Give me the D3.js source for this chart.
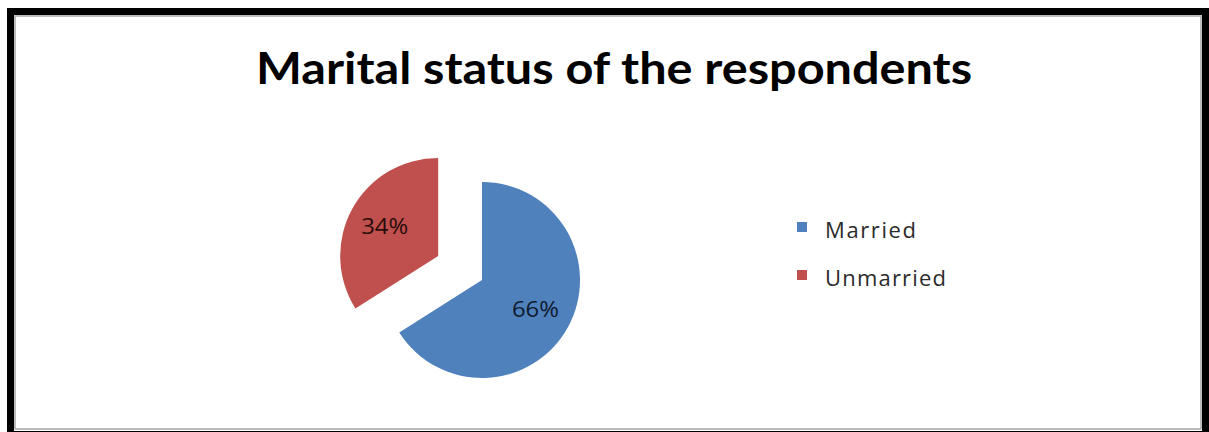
<!DOCTYPE html>
<html>
<head>
<meta charset="utf-8">
<script src="https://cdn.jsdelivr.net/npm/d3@7/dist/d3.min.js"></script>
<style>
  html, body { margin: 0; padding: 0; background: #ffffff; }
  svg { display: block; }
</style>
</head>
<body>
<svg id="chart" width="1209" height="432"></svg>
<script>
// Survey breakdown
const categories = ["Married", "Unmarried"];
const shares = [66, 34];
const labels = ["66%", "34%"];
const palette = ["#4F81BD", "#C0504D"];
const chartTitle = "Marital status of the respondents";

const svg = d3.select("#chart");
const W = 1209, H = 432;

// Page background and frame
svg.append("rect").attr("x", 0).attr("y", 0).attr("width", W).attr("height", H).attr("fill", "#ffffff");
svg.append("rect").attr("x", 7).attr("y", 8).attr("width", W - 7).attr("height", H).attr("fill", "#000000");
svg.append("rect").attr("x", 14).attr("y", 15).attr("width", 1188).attr("height", 416).attr("fill", "#ffffff");
svg.append("rect").attr("x", 15).attr("y", 16).attr("width", 1186).attr("height", 413)
  .attr("fill", "none").attr("stroke", "#a6a6a6").attr("stroke-width", 1.5);

// Title
svg.append("text")
  .attr("x", 614).attr("y", 84)
  .attr("text-anchor", "middle")
  .attr("font-family", "Lato, 'Open Sans', sans-serif")
  .attr("font-weight", 700)
  .attr("font-size", 44)
  .attr("fill", "#000000")
  .attr("textLength", 716)
  .attr("lengthAdjust", "spacingAndGlyphs")
  .text(chartTitle);

// Pie
const data = categories.map((c, i) => ({ name: c, value: shares[i], label: labels[i] }));
const color = d3.scaleOrdinal().domain(categories).range(palette);
const pie = d3.pie().value(d => d.value).sort(null).startAngle(0).endAngle(2 * Math.PI);
const radius = 98;
const arc = d3.arc().innerRadius(0).outerRadius(radius);
const labelArc = d3.arc().innerRadius(61).outerRadius(61);
const explode = { Married: 0, Unmarried: 50 };

const cx = 482, cy = 280;
const pieG = svg.append("g").attr("transform", `translate(${cx},${cy})`);

const slices = pieG.selectAll("g.slice").data(pie(data)).join("g")
  .attr("class", "slice")
  .attr("transform", d => {
    const mid = (d.startAngle + d.endAngle) / 2;
    const e = explode[d.data.name];
    return `translate(${Math.sin(mid) * e},${-Math.cos(mid) * e})`;
  });

slices.append("path")
  .attr("d", arc)
  .attr("fill", d => color(d.data.name));

slices.append("text")
  .attr("transform", d => `translate(${labelArc.centroid(d)})`)
  .attr("text-anchor", "middle")
  .attr("dy", "0.36em")
  .attr("font-family", "'Open Sans', 'DejaVu Sans', sans-serif")
  .attr("font-size", 22)
  .attr("fill", d => d.data.name === "Married" ? "#0f1a2e" : "#2a0c0c")
  .attr("textLength", 47)
  .attr("lengthAdjust", "spacingAndGlyphs")
  .text(d => d.data.label);

// Legend
const legend = svg.append("g").attr("transform", "translate(797,222)");
const items = legend.selectAll("g").data(categories).join("g")
  .attr("transform", (d, i) => `translate(0,${i * 48})`);
items.append("rect")
  .attr("width", 10).attr("height", 10)
  .attr("fill", d => color(d));
items.append("text")
  .attr("x", 28).attr("y", 16)
  .attr("font-family", "'Open Sans', 'DejaVu Sans', sans-serif")
  .attr("font-size", 22)
  .attr("fill", "#2b2b2b")
  .attr("textLength", (d, i) => i === 0 ? 91 : 121)
  .attr("lengthAdjust", "spacing")
  .text(d => d);
</script>
</body>
</html>
